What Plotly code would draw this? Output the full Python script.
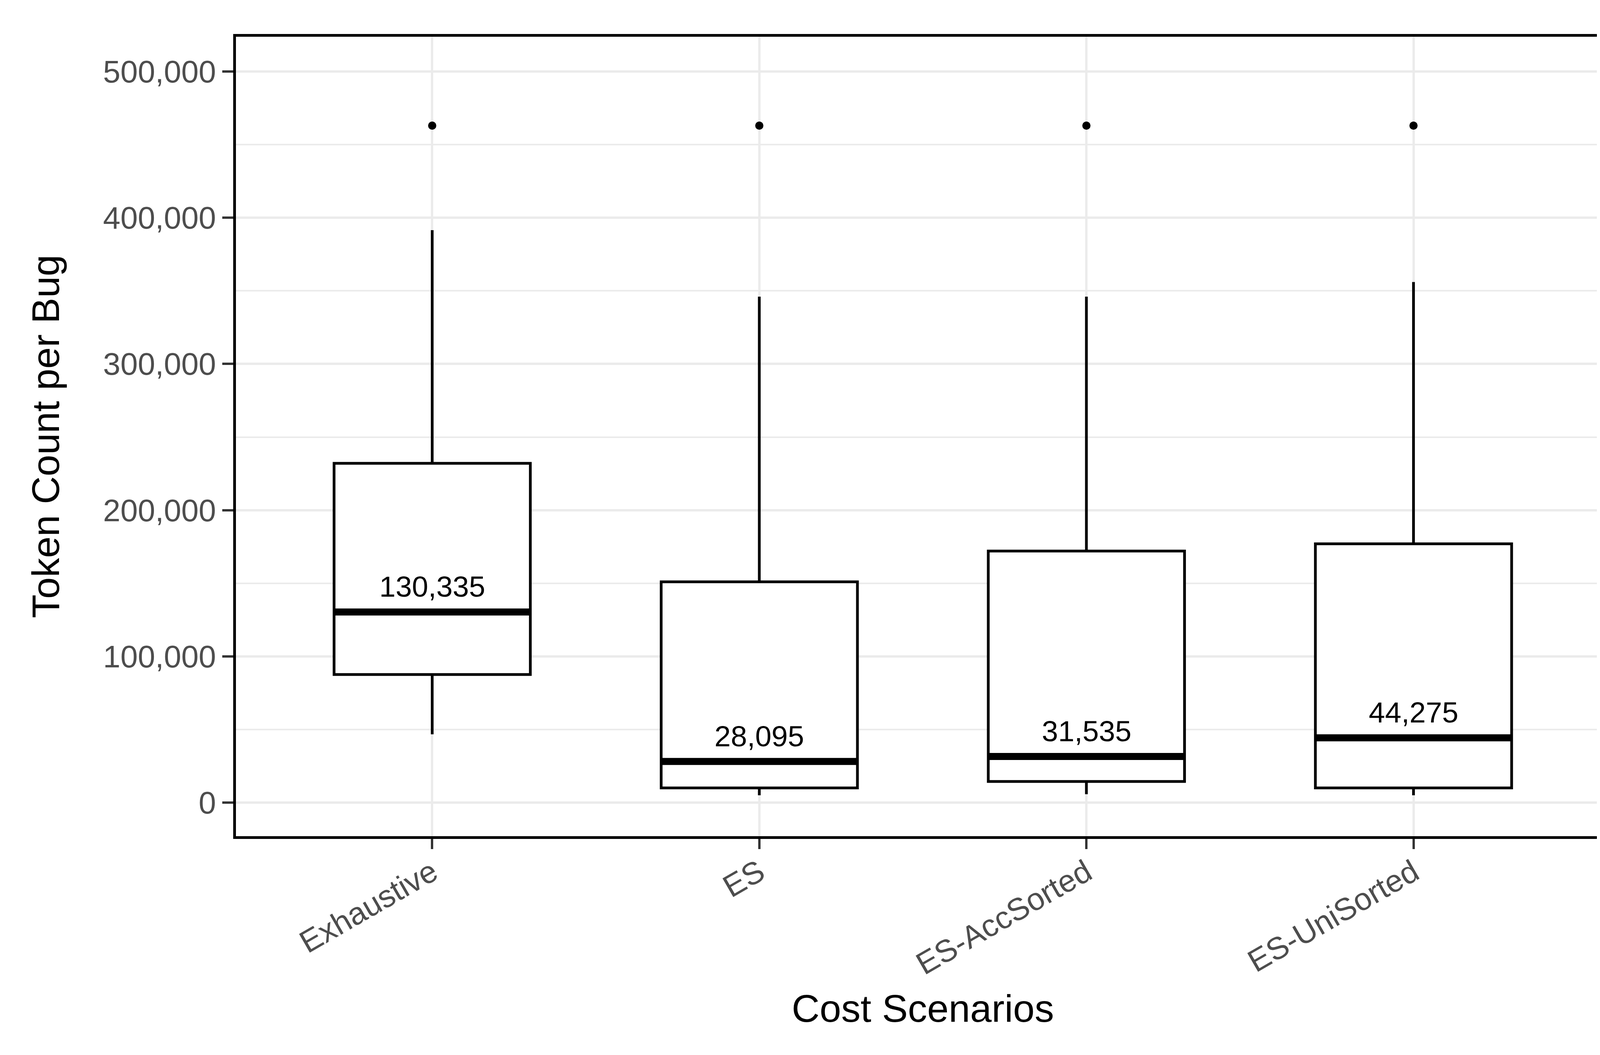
import plotly.graph_objects as go

categories = ["Exhaustive", "ES", "ES-AccSorted", "ES-UniSorted"]
lower_whisker = [46700, 5000, 5700, 5000]
q1_values = [87600, 10000, 14400, 10000]
medians = [130335, 28095, 31535, 44275]
q3_values = [232000, 151000, 172000, 177000]
upper_whisker = [391500, 346000, 346000, 356000]
outliers = [[463000], [463000], [463000], [463000]]
y_ticks = [0, 100000, 200000, 300000, 400000, 500000]

FONT = "Liberation Sans, Arial, sans-serif"
BOX_HALF = 0.3
pos = list(range(len(categories)))

fig = go.Figure()

fig.add_trace(go.Box(
    x=pos, q1=q1_values, median=medians, q3=q3_values,
    lowerfence=lower_whisker, upperfence=upper_whisker,
    width=2 * BOX_HALF, whiskerwidth=0,
    fillcolor="white", line=dict(color="black", width=7),
    boxpoints=False, showlegend=False, hoverinfo="skip",
))

# thick median lines
for i, m in enumerate(medians):
    fig.add_trace(go.Scatter(
        x=[i - BOX_HALF, i + BOX_HALF], y=[m, m], mode="lines",
        line=dict(color="black", width=18), showlegend=False, hoverinfo="skip",
    ))

# outliers
ox, oy = [], []
for i, vals in enumerate(outliers):
    for v in vals:
        ox.append(i)
        oy.append(v)
fig.add_trace(go.Scatter(
    x=ox, y=oy, mode="markers",
    marker=dict(color="black", size=21), showlegend=False, hoverinfo="skip",
))

for i, m in enumerate(medians):
    fig.add_annotation(
        x=i, y=m, text=f"{m:,}", showarrow=False,
        yanchor="bottom", yshift=21,
        font=dict(family=FONT, size=75, color="black"),
    )

fig.update_layout(
    width=4200, height=2700,
    margin=dict(l=596, r=87, t=86, b=568),
    paper_bgcolor="white", plot_bgcolor="white",
    font=dict(family=FONT),
)

fig.update_xaxes(
    range=[-0.6, 3.6], tickvals=pos, ticktext=categories,
    tickangle=-30, tickfont=dict(family=FONT, size=80, color="#4D4D4D"),
    ticks="outside", ticklen=26, tickwidth=6, tickcolor="#333333",
    ticklabelstandoff=-18,
    showgrid=True, gridcolor="#EBEBEB", gridwidth=6,
    showline=True, linecolor="black", linewidth=7, mirror=True,
    zeroline=False,
    title=dict(text="Cost Scenarios", font=dict(family=FONT, size=99, color="black"), standoff=38),
)

fig.update_yaxes(
    range=[-23000, 523800], tickvals=y_ticks, tickformat=",d",
    tickfont=dict(family=FONT, size=80, color="#4D4D4D"),
    ticks="outside", ticklen=28, tickwidth=6, tickcolor="#333333",
    showgrid=True, gridcolor="#EBEBEB", gridwidth=6,
    minor=dict(tick0=0, dtick=50000, showgrid=True, gridcolor="#EBEBEB", gridwidth=3.5, ticks=""),
    showline=True, linecolor="black", linewidth=7, mirror=True,
    zeroline=False,
    title=dict(text="Token Count per Bug", font=dict(family=FONT, size=99, color="black"), standoff=82),
)

fig.write_html("out.html")
